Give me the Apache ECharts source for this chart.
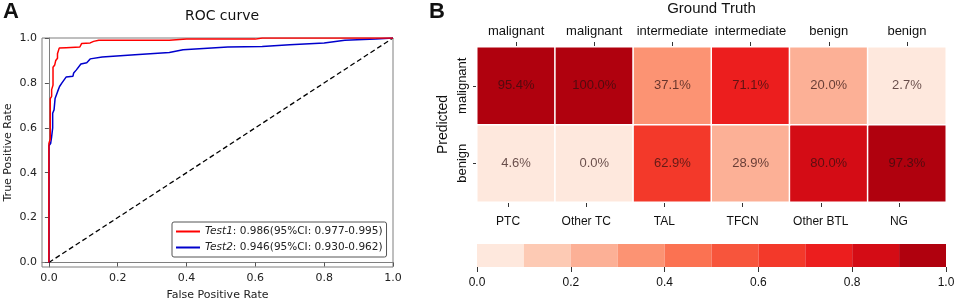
<!DOCTYPE html>
<html>
<head>
<meta charset="utf-8">
<script src="https://cdn.jsdelivr.net/npm/echarts@6/dist/echarts.min.js"></script>
<style>
  html, body { margin: 0; padding: 0; background: #fff; }
  #chart { width: 955px; height: 298px; }
</style>
</head>
<body>
<div id="chart"></div>
<script>
// ROC curve (panel A)
var fpr1 = [0, 0, 0.004, 0.004, 0.008, 0.008, 0.012, 0.012, 0.017, 0.02, 0.02, 0.025, 0.025, 0.03, 0.05, 0.09, 0.095, 0.12, 0.13, 0.145, 0.35, 0.4, 0.6, 0.62, 1];
var tpr1 = [0, 0.53, 0.55, 0.73, 0.74, 0.77, 0.79, 0.87, 0.88, 0.88, 0.9, 0.91, 0.93, 0.955, 0.957, 0.96, 0.975, 0.978, 0.985, 0.99, 0.99, 0.995, 0.995, 1.0, 1.0];
var fpr2 = [0, 0, 0.005, 0.008, 0.011, 0.011, 0.015, 0.018, 0.025, 0.031, 0.038, 0.05, 0.07, 0.072, 0.08, 0.093, 0.11, 0.12, 0.155, 0.25, 0.35, 0.39, 0.52, 0.62, 0.7, 0.8, 0.86, 0.95, 1];
var tpr2 = [0, 0.52, 0.53, 0.56, 0.6, 0.665, 0.68, 0.73, 0.76, 0.784, 0.8, 0.826, 0.83, 0.844, 0.858, 0.884, 0.89, 0.907, 0.915, 0.925, 0.935, 0.948, 0.96, 0.962, 0.97, 0.978, 0.99, 0.995, 1.0];
var testNames = ["Test1", "Test2"];
var aucTexts = [": 0.986(95%CI: 0.977-0.995)", ": 0.946(95%CI: 0.930-0.962)"];
var rocTicks = [0, 0.2, 0.4, 0.6, 0.8, 1.0];

// confusion heatmap (panel B)
var truthTypes = ["malignant", "malignant", "intermediate", "intermediate", "benign", "benign"];
var truthNames = ["PTC", "Other TC", "TAL", "TFCN", "Other BTL", "NG"];
var predLabels = ["benign", "malignant"];
var malignantRow = [95.4, 100.0, 37.1, 71.1, 20.0, 2.7];
var benignRow = [4.6, 0.0, 62.9, 28.9, 80.0, 97.3];
var binEdges = [0, 0.1, 0.2, 0.3, 0.4, 0.5, 0.6, 0.7, 0.8, 0.9, 1.0];
var binColors = ["#fee8dd", "#fdcab4", "#fcb096", "#fc9373", "#fb7252", "#f7553c", "#f3392a", "#ec1e1e", "#d40c15", "#b0010e"];

function zip(a, b) { return a.map(function (v, i) { return [v, b[i]]; }); }

var heatData = [];
benignRow.forEach(function (v, i) { heatData.push([i, 0, v / 100]); });
malignantRow.forEach(function (v, i) { heatData.push([i, 1, v / 100]); });

var pieces = [];
var cbData = [];
for (var i = 0; i < binColors.length; i++) {
  pieces.push({ gte: binEdges[i], lt: binEdges[i + 1] + (i === binColors.length - 1 ? 0.01 : 0), color: binColors[i] });
  cbData.push([binEdges[i], binEdges[i + 1], i]);
}

var fA = "DejaVu Sans";
var fB = "Liberation Sans";

var chart = echarts.init(document.getElementById("chart"));
var option = {
  animation: false,
  backgroundColor: "#fff",
  title: [
    { text: "ROC curve", left: 217, top: 4, textAlign: "center",
      textStyle: { fontFamily: fA, fontSize: 14, fontWeight: "normal", color: "#111" } }
  ],
  graphic: [
    { type: "text", left: 3, top: 1, style: { text: "A", font: "bold 22px Liberation Sans", fill: "#111" } },
    { type: "text", left: 429, top: 1, style: { text: "B", font: "bold 22px Liberation Sans", fill: "#111" } }
  ],
  legend: {
    data: testNames,
    orient: "vertical",
    left: 172,
    top: 222,
    itemGap: 5,
    icon: "rect",
    itemWidth: 24,
    itemHeight: 2,
    padding: [4, 4, 4, 4],
    borderColor: "#555",
    borderWidth: 1,
    borderRadius: 2,
    formatter: function (name) {
      return "{i|" + name + "}" + aucTexts[testNames.indexOf(name)];
    },
    textStyle: {
      fontFamily: fA, fontSize: 10.5, color: "#222",
      rich: { i: { fontFamily: fA, fontSize: 10.5, fontStyle: "italic", color: "#222" } }
    }
  },
  visualMap: {
    show: false,
    type: "piecewise",
    seriesIndex: 3,
    dimension: 2,
    pieces: pieces
  },
  grid: [
    { left: 42, top: 38, width: 351, height: 229, show: true, borderColor: "#7f7f7f", borderWidth: 1, outerBoundsMode: "none" },
    { left: 477, top: 47, width: 469, height: 155, outerBoundsMode: "none" },
    { left: 469, top: 47, width: 469, height: 155, outerBoundsMode: "none" },
    { left: 477, top: 244, width: 469, height: 23, outerBoundsMode: "none" }
  ],
  xAxis: [
    { gridIndex: 0, type: "value", min: -0.02, max: 1.0,
      name: "False Positive Rate", nameLocation: "middle", nameGap: 23,
      nameTextStyle: { fontFamily: fA, fontSize: 11, color: "#222" },
      axisLine: { lineStyle: { color: "#7f7f7f" } },
      axisTick: { show: true, length: 4, customValues: rocTicks, lineStyle: { color: "#555" } },
      axisLabel: { customValues: rocTicks, fontFamily: fA, fontSize: 11, color: "#222", margin: 6,
        formatter: function (v) { return v.toFixed(1); } },
      splitLine: { show: false } },
    { gridIndex: 1, type: "category", position: "top", data: truthTypes,
      name: "Ground Truth", nameLocation: "middle", nameGap: 31,
      nameTextStyle: { fontFamily: fB, fontSize: 15, color: "#111" },
      axisLine: { show: false },
      axisTick: { show: true, alignWithLabel: true, length: 5, lineStyle: { color: "#333" } },
      axisLabel: { interval: 0, fontFamily: fB, fontSize: 13, color: "#111", margin: 9 },
      splitLine: { show: false } },
    { gridIndex: 2, type: "category", position: "bottom", data: truthNames,
      axisLine: { show: false },
      axisTick: { show: true, alignWithLabel: true, length: 5, lineStyle: { color: "#333" } },
      axisLabel: { interval: 0, fontFamily: fB, fontSize: 12, color: "#111", margin: 14 },
      splitLine: { show: false } },
    { gridIndex: 3, type: "value", min: 0, max: 1, interval: 0.2,
      axisLine: { show: false },
      axisTick: { show: true, length: 5, lineStyle: { color: "#333" } },
      axisLabel: { fontFamily: fB, fontSize: 12, color: "#111", margin: 10,
        formatter: function (v) { return v.toFixed(1); } },
      splitLine: { show: false } }
  ],
  yAxis: [
    { gridIndex: 0, type: "value", min: -0.02, max: 1.0,
      name: "True Positive Rate", nameLocation: "middle", nameGap: 28,
      nameTextStyle: { fontFamily: fA, fontSize: 11, color: "#222" },
      axisLine: { show: true, lineStyle: { color: "#7f7f7f" } },
      axisTick: { show: true, length: 4, customValues: rocTicks, lineStyle: { color: "#555" } },
      axisLabel: { customValues: rocTicks, fontFamily: fA, fontSize: 11, color: "#222", margin: 5,
        formatter: function (v) { return v.toFixed(1); } },
      splitLine: { show: false } },
    { gridIndex: 1, type: "category", data: predLabels,
      name: "Predicted", nameLocation: "middle", nameGap: 27, nameRotate: 90,
      nameTextStyle: { fontFamily: fB, fontSize: 14, color: "#111" },
      axisLine: { show: false },
      axisTick: { show: true, alignWithLabel: true, length: 4, lineStyle: { color: "#333" } },
      axisLabel: { interval: 0, rotate: 90, fontFamily: fB, fontSize: 13, color: "#111", margin: 8 },
      splitLine: { show: false } },
    { gridIndex: 2, type: "value", show: false },
    { gridIndex: 3, type: "value", min: 0, max: 1, show: false }
  ],
  series: [
    { name: "Test1", type: "line", xAxisIndex: 0, yAxisIndex: 0, data: zip(fpr1, tpr1),
      symbol: "none", lineStyle: { color: "#ff0000", width: 1.5 }, itemStyle: { color: "#ff0000" }, z: 4 },
    { name: "Test2", type: "line", xAxisIndex: 0, yAxisIndex: 0, data: zip(fpr2, tpr2),
      symbol: "none", lineStyle: { color: "#0000cc", width: 1.5 }, itemStyle: { color: "#0000cc" }, z: 3 },
    { name: "chance", type: "line", xAxisIndex: 0, yAxisIndex: 0, data: [[0, 0], [1, 1]],
      symbol: "none", lineStyle: { color: "#000", width: 1.3, type: [5, 3] }, z: 2 },
    { name: "confusion", type: "heatmap", xAxisIndex: 1, yAxisIndex: 1, data: heatData,
      itemStyle: { borderColor: "#fff", borderWidth: 1.5 },
      label: { show: true, fontFamily: fB, fontSize: 13, color: "rgba(45,15,15,0.72)",
        formatter: function (p) { return (p.value[2] * 100).toFixed(1) + "%"; } } },
    { name: "colorbar", type: "custom", xAxisIndex: 3, yAxisIndex: 3, data: cbData,
      renderItem: function (params, api) {
        var p0 = api.coord([api.value(0), 1]);
        var p1 = api.coord([api.value(1), 0]);
        return { type: "rect", shape: { x: p0[0], y: p0[1], width: p1[0] - p0[0], height: p1[1] - p0[1] },
          style: { fill: binColors[api.value(2)] } };
      } }
  ]
};
chart.setOption(option);
</script>
</body>
</html>
